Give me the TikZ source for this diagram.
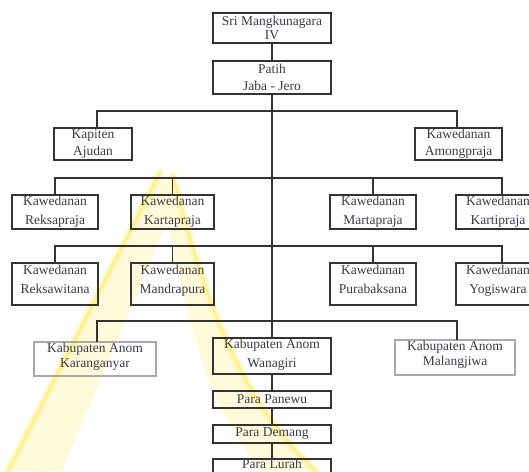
\documentclass[tikz,border=0pt]{standalone}
\usepackage{fontspec}
\setmainfont{Liberation Serif}
\definecolor{ink}{HTML}{333333}
\definecolor{txt}{HTML}{3C3A48}
\definecolor{lightframe}{HTML}{A8A8A8}
\definecolor{paleyel}{HTML}{FFFBDA}
\definecolor{brightyel}{HTML}{FFE94A}
\begin{document}
\begin{tikzpicture}[x=1pt,y=-1pt,
  box/.style={draw=ink, line width=1.5pt, inner sep=0pt, outer sep=0pt,
    align=center, text=txt, font=\fontsize{13.5}{16.5}\selectfont},
  tight/.style={font=\fontsize{13.5}{14.5}\selectfont},
  loose/.style={font=\fontsize{13.5}{19}\selectfont},
  lightbox/.style={box, draw=lightframe, line width=1.2pt},
  link/.style={draw=ink, line width=1.3pt},
  glow/.style={brightyel, line cap=round, line width=9pt, opacity=0.18},
  edgeline/.style={brightyel, line cap=round, line width=3pt, opacity=0.45}]
\useasboundingbox (0,0) rectangle (529,471);
\clip (0,0) rectangle (529,471);
\fill[white] (0,0) rectangle (529,471);
% watermark
\fill[paleyel] (6,471) -- (160,170) -- (178,196) -- (62,471) -- cycle;
\fill[paleyel] (160,190) -- (173,173) .. controls (205,300) and (240,400) .. (318,471) -- (262,471) .. controls (200,400) and (185,300) .. cycle;
\draw[glow] (8,471) -- (160,172);
\draw[edgeline] (8,471) -- (160,172);
\draw[glow] (173,175) .. controls (205,300) and (240,400) .. (316,471);
\draw[edgeline] (173,175) .. controls (205,300) and (240,400) .. (316,471);
% nodes
\node[box, tight, minimum width=118pt, minimum height=30pt] (sri) at (272,28) {Sri Mangkunagara\\IV};
\node[box, minimum width=118pt, minimum height=33pt] (patih) at (272,77.5) {Patih\\Jaba - Jero};
\node[box, minimum width=78pt, minimum height=32pt] (kap) at (93,144) {Kapiten\\Ajudan};
\node[box, minimum width=87pt, minimum height=32pt] (among) at (458.5,144) {Kawedanan\\Amongpraja};
\node[box, loose, text depth=4pt, minimum width=86pt, minimum height=34pt] (reksa) at (55,212) {Kawedanan\\Reksapraja};
\node[box, loose, text depth=4pt, minimum width=83pt, minimum height=34pt] (karta) at (172.5,212) {Kawedanan\\Kartapraja};
\node[box, loose, text depth=4pt, minimum width=86pt, minimum height=34pt] (marta) at (373,212) {Kawedanan\\Martapraja};
\node[box, loose, text depth=4pt, minimum width=84pt, minimum height=34pt] (karti) at (498,212) {Kawedanan\\Kartipraja};
\node[box, loose, text depth=10pt, minimum width=86pt, minimum height=42pt] (reksaw) at (55,284) {Kawedanan\\Reksawitana};
\node[box, loose, text depth=10pt, minimum width=83pt, minimum height=42pt] (mandra) at (172.5,284) {Kawedanan\\Mandrapura};
\node[box, loose, text depth=10pt, minimum width=86pt, minimum height=42pt] (pura) at (373,284) {Kawedanan\\Purabaksana};
\node[box, loose, text depth=10pt, minimum width=84pt, minimum height=42pt] (yogi) at (498,284) {Kawedanan\\Yogiswara};
\node[lightbox, tight, text depth=7pt, minimum width=122pt, minimum height=34pt] (kar) at (95,359) {Kabupaten Anom\\Karanganyar};
\node[box, loose, text depth=5pt, minimum width=118pt, minimum height=36pt] (wana) at (272,356) {Kabupaten Anom\\Wanagiri};
\node[lightbox, tight, text depth=8pt, minimum width=120pt, minimum height=35pt] (malang) at (455,357.5) {Kabupaten Anom\\Malangjiwa};
\node[box, minimum width=118pt, minimum height=17pt] (panewu) at (272,399.5) {Para Panewu};
\node[box, minimum width=118pt, minimum height=18pt] (demang) at (272,434) {Para Demang};
\node[box, text depth=6pt, minimum width=118pt, minimum height=14pt] (lurah) at (272,466.5) {Para Lurah};
% junctions on the trunk
\coordinate (j1) at (272,111);
\coordinate (j2) at (272,178);
\coordinate (j3) at (272,246);
\coordinate (j4) at (272,321);
% connectors
\draw[link] (sri) -- (patih);
\draw[link] (patih) -- (wana);
\draw[link] ([xshift=4pt]kap.north) |- (j1) -| ([xshift=-1.5pt]among.north);
\draw[link] (reksa.north) |- (j2) -| ([xshift=4pt]karti.north);
\draw[link] (karta.north) -- (karta.north |- j2);
\draw[link] (marta.north) -- (marta.north |- j2);
\draw[link] (reksaw.north) |- (j3) -| ([xshift=4pt]yogi.north);
\draw[link] (mandra.north) -- (mandra.north |- j3);
\draw[link] (pura.north) -- (pura.north |- j3);
\draw[link] ([xshift=2pt]kar.north) |- (j4) -| ([xshift=2pt]malang.north);
\draw[link] (wana) -- (panewu);
\draw[link] (panewu) -- (demang);
\draw[link] (demang) -- (lurah);
\end{tikzpicture}
\end{document}
